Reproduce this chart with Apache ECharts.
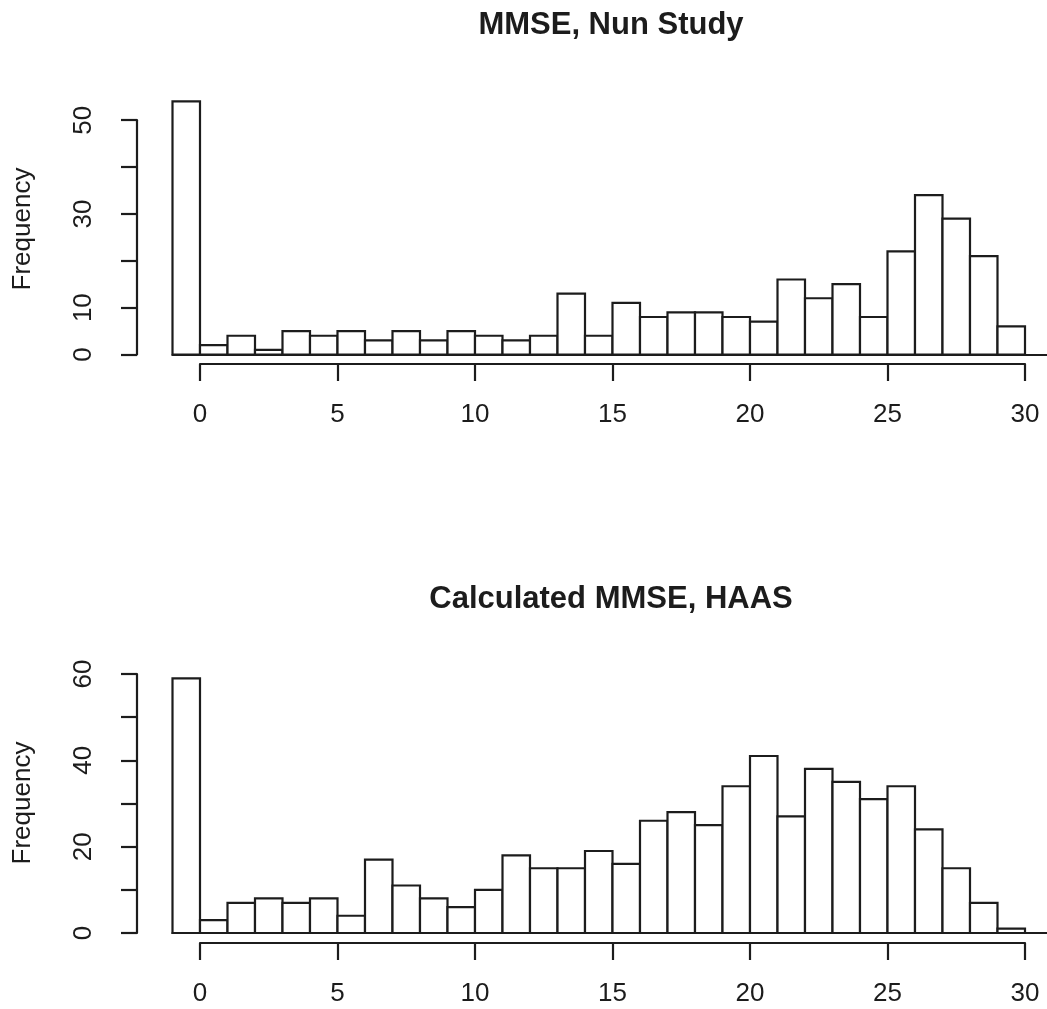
<!DOCTYPE html>
<html>
<head>
<meta charset="utf-8">
<script src="https://cdn.jsdelivr.net/npm/echarts@6/dist/echarts.min.js"></script>
<style>
  html, body { margin: 0; padding: 0; background: #ffffff; }
  #chart { width: 1047px; height: 1009px; }
</style>
</head>
<body>
<div id="chart"></div>
<script>
// ---- data ----
const binStarts = [-1, 0, 1, 2, 3, 4, 5, 6, 7, 8, 9, 10, 11, 12, 13, 14, 15, 16, 17, 18, 19, 20, 21, 22, 23, 24, 25, 26, 27, 28, 29];
const binWidth = 1;
const nunCounts = [54, 2, 4, 1, 5, 4, 5, 3, 5, 3, 5, 4, 3, 4, 13, 4, 11, 8, 9, 9, 8, 7, 16, 12, 15, 8, 22, 34, 29, 21, 6];
const haasCounts = [59, 3, 7, 8, 7, 8, 4, 17, 11, 8, 6, 10, 18, 15, 15, 19, 16, 26, 28, 25, 34, 41, 27, 38, 35, 31, 34, 24, 15, 7, 1];
const titles = ['MMSE, Nun Study', 'Calculated MMSE, HAAS'];
const yName = 'Frequency';
const xTicks = [0, 5, 10, 15, 20, 25, 30];
const nunYTicks = [0, 10, 20, 30, 40, 50];
const nunYLabels = [0, 10, 30, 50];
const haasYTicks = [0, 10, 20, 30, 40, 50, 60];
const haasYLabels = [0, 20, 40, 60];

// ---- style ----
const INK = '#1c1c1c';
const FONT = '"Liberation Sans", Arial, sans-serif';

function binData(counts) {
  return counts.map((c, i) => [binStarts[i], binStarts[i] + binWidth, c]);
}

function histSeries(counts, idx) {
  return {
    type: 'custom',
    xAxisIndex: idx,
    yAxisIndex: idx,
    data: binData(counts),
    encode: { x: [0, 1], y: 2 },
    clip: false,
    renderItem: function (params, api) {
      const p0 = api.coord([api.value(0), 0]);
      const p1 = api.coord([api.value(1), api.value(2)]);
      return {
        type: 'rect',
        shape: { x: p0[0], y: p1[1], width: p1[0] - p0[0], height: p0[1] - p1[1] },
        style: { fill: '#ffffff', stroke: INK, lineWidth: 2.2 }
      };
    }
  };
}

// Panel geometry (pixels)
const plotLeft = 172.5, unitX = 27.5;
const panels = [
  { base: 354.5, unitY: 4.686, yMaxPlot: 60, yTop: 50, xAxisY: 364, titleY: 25, ylabY: 229 },
  { base: 933, unitY: 4.3167, yMaxPlot: 66, yTop: 60, xAxisY: 943, titleY: 599, ylabY: 803 }
];
const xMaxPlot = -1 + (1047 - plotLeft) / unitX;

const grids = [], xAxes = [], yAxes = [];
const tickVals = [nunYTicks, haasYTicks];
const labVals = [nunYLabels, haasYLabels];

panels.forEach((p, k) => {
  // plotting grid (bars + baseline)
  grids.push({ left: plotLeft, width: 1047 - plotLeft, top: p.base - p.yMaxPlot * p.unitY, height: p.yMaxPlot * p.unitY, containLabel: false });
  xAxes.push({ gridIndex: grids.length - 1, type: 'value', min: -1, max: xMaxPlot,
    axisLine: { show: true, onZero: false, lineStyle: { color: INK, width: 2.2 } },
    axisTick: { show: false }, axisLabel: { show: false }, splitLine: { show: false } });
  yAxes.push({ gridIndex: grids.length - 1, type: 'value', min: 0, max: p.yMaxPlot,
    axisLine: { show: false }, axisTick: { show: false }, axisLabel: { show: false }, splitLine: { show: false } });

  // R-style x axis (0..30)
  grids.push({ left: 200, width: 30 * unitX, top: p.xAxisY - 1, height: 1 });
  xAxes.push({ gridIndex: grids.length - 1, type: 'value', min: xTicks[0], max: xTicks[xTicks.length - 1], interval: 5,
    axisLine: { show: true, lineStyle: { color: INK, width: 2.2 } },
    axisTick: { show: true, length: 17, lineStyle: { color: INK, width: 2.2 } },
    axisLabel: { show: true, margin: 38, fontSize: 26, fontFamily: FONT, color: INK,
      formatter: v => xTicks.indexOf(v) >= 0 ? String(v) : '' },
    splitLine: { show: false } });
  yAxes.push({ gridIndex: grids.length - 1, type: 'value', min: 0, max: 1, show: false });

  // R-style y axis
  const tv = tickVals[k], lv = labVals[k];
  grids.push({ left: 137, width: 1, top: p.base - p.yTop * p.unitY, height: p.yTop * p.unitY });
  xAxes.push({ gridIndex: grids.length - 1, type: 'value', min: 0, max: 1, show: false });
  yAxes.push({ gridIndex: grids.length - 1, type: 'value', min: tv[0], max: tv[tv.length - 1], interval: 10,
    axisLine: { show: true, lineStyle: { color: INK, width: 2.2 } },
    axisTick: { show: true, length: 16, lineStyle: { color: INK, width: 2.2 } },
    axisLabel: { show: true, rotate: 90, margin: 40, fontSize: 26, fontFamily: FONT, color: INK,
      formatter: v => lv.indexOf(v) >= 0 ? String(v) : '' },
    splitLine: { show: false } });
});

const graphics = [];
panels.forEach((p, k) => {
  graphics.push({ type: 'text', x: 611, y: p.titleY,
    style: { text: titles[k], font: 'bold 31px ' + FONT, fill: INK, textAlign: 'center', textVerticalAlign: 'middle' } });
  graphics.push({ type: 'text', x: 23, y: p.ylabY, rotation: Math.PI / 2,
    style: { text: yName, font: '26px ' + FONT, fill: INK, textAlign: 'center', textVerticalAlign: 'middle' } });
});

const chart = echarts.init(document.getElementById('chart'), null, { renderer: 'canvas' });
chart.setOption({
  backgroundColor: '#ffffff',
  animation: false,
  grid: grids,
  xAxis: xAxes,
  yAxis: yAxes,
  graphic: graphics,
  series: [histSeries(nunCounts, 0), histSeries(haasCounts, 3)]
});
</script>
</body>
</html>
